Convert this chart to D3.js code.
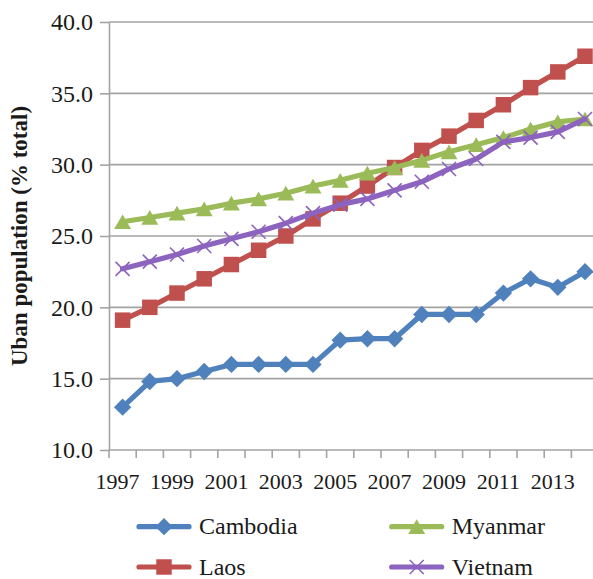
<!DOCTYPE html>
<html>
<head>
<meta charset="utf-8">
<script src="https://cdn.jsdelivr.net/npm/d3@7"></script>
<style>
  html, body { margin: 0; padding: 0; background: #fff; }
  svg { display: block; }
  text { font-family: "Liberation Serif", "Times New Roman", serif; fill: #1a1a1a; }
</style>
</head>
<body>
<svg id="chart" width="593" height="579"></svg>
<script>
// Urban population share, 1997–2014
const years = [1997, 1998, 1999, 2000, 2001, 2002, 2003, 2004, 2005,
               2006, 2007, 2008, 2009, 2010, 2011, 2012, 2013, 2014];
const cambodia = [13.0, 14.8, 15.0, 15.5, 16.0, 16.0, 16.0, 16.0, 17.7,
                  17.8, 17.8, 19.5, 19.5, 19.5, 21.0, 22.0, 21.4, 22.5];
const laos     = [19.1, 20.0, 21.0, 22.0, 23.0, 24.0, 25.0, 26.2, 27.3,
                  28.5, 29.8, 31.0, 32.0, 33.1, 34.2, 35.4, 36.5, 37.6];
const myanmar  = [26.0, 26.3, 26.6, 26.9, 27.3, 27.6, 28.0, 28.5, 28.9,
                  29.4, 29.8, 30.3, 30.9, 31.4, 31.9, 32.5, 33.0, 33.2];
const vietnam  = [22.7, 23.2, 23.7, 24.3, 24.8, 25.3, 25.9, 26.6, 27.2,
                  27.6, 28.2, 28.8, 29.7, 30.4, 31.6, 31.9, 32.3, 33.2];
const yTicks = [10, 15, 20, 25, 30, 35, 40];
const xLabels = [1997, 1999, 2001, 2003, 2005, 2007, 2009, 2011, 2013];
const yTitle = "Uban population (% total)";

const series = [
  { name: "Cambodia", values: cambodia, color: "#4F81BD", marker: "diamond", col: 0, row: 0 },
  { name: "Laos",     values: laos,     color: "#C0504D", marker: "square",  col: 0, row: 1 },
  { name: "Myanmar",  values: myanmar,  color: "#9BBB59", marker: "triangle", col: 1, row: 0 },
  { name: "Vietnam",  values: vietnam,  color: "#8C63BE", marker: "cross",   col: 1, row: 1 }
];

const W = 593, H = 579;
const FONT = "Liberation Serif, Times New Roman, serif";
const plot = { left: 109, top: 22, bottom: 450, right: 598.6 };
const gridColor = "#a3a3a3";

const svg = d3.select("#chart");

const x = d3.scaleBand().domain(years).range([plot.left, plot.right]).padding(0);
const y = d3.scaleLinear().domain([10, 40]).range([plot.bottom, plot.top]);
const cx = d => x(d) + x.bandwidth() / 2;

// horizontal gridlines
svg.append("g").selectAll("line")
  .data(yTicks.filter(t => t > 10))
  .join("line")
  .attr("x1", plot.left).attr("x2", W)
  .attr("y1", d => y(d)).attr("y2", d => y(d))
  .attr("stroke", gridColor).attr("stroke-width", 1.6);

// y axis
const yAxis = svg.append("g")
  .attr("transform", `translate(${plot.left},0)`)
  .call(d3.axisLeft(y).tickValues(yTicks).tickFormat(d3.format(".1f"))
    .tickSize(9).tickSizeOuter(0).tickPadding(7));
yAxis.attr("font-family", FONT);
yAxis.select(".domain").attr("stroke", gridColor).attr("stroke-width", 1.6);
yAxis.selectAll(".tick line").attr("stroke", gridColor).attr("stroke-width", 1.6);
yAxis.selectAll(".tick text").attr("font-size", 24).attr("fill", "#1a1a1a")
  .attr("font-family", FONT);

// x axis line and category boundary ticks
svg.append("line")
  .attr("x1", plot.left).attr("x2", W)
  .attr("y1", plot.bottom).attr("y2", plot.bottom)
  .attr("stroke", gridColor).attr("stroke-width", 1.6);
const bounds = years.map(d => x(d)).concat([x.range()[1]]);
svg.append("g").selectAll("line")
  .data(bounds)
  .join("line")
  .attr("x1", d => d).attr("x2", d => d)
  .attr("y1", plot.bottom).attr("y2", plot.bottom + 8)
  .attr("stroke", gridColor).attr("stroke-width", 1.6);

const xAxis = svg.append("g")
  .attr("transform", `translate(0,${plot.bottom})`)
  .call(d3.axisBottom(x).tickValues(xLabels).tickSize(0).tickPadding(23));
xAxis.attr("font-family", FONT);
xAxis.select(".domain").remove();
xAxis.selectAll(".tick text").attr("font-size", 22).attr("fill", "#1a1a1a")
  .attr("font-family", FONT).attr("dx", -5);

// y axis title
svg.append("text")
  .attr("transform", `translate(27,${(plot.top + plot.bottom) / 2}) rotate(-90)`)
  .attr("text-anchor", "middle")
  .attr("font-family", FONT)
  .attr("font-size", 23)
  .attr("font-weight", "bold")
  .text(yTitle);

// marker shapes
function drawMarker(g, type, color) {
  if (type === "diamond") {
    g.append("path")
      .attr("d", d3.symbol(d3.symbolSquare, 150)())
      .attr("transform", "rotate(45)")
      .attr("fill", color);
  } else if (type === "square") {
    g.append("path")
      .attr("d", d3.symbol(d3.symbolSquare, 240)())
      .attr("fill", color);
  } else if (type === "triangle") {
    const size = 125;
    const h = Math.sqrt(size * Math.sqrt(3)); // equilateral height
    g.append("path")
      .attr("d", d3.symbol(d3.symbolTriangle, size)())
      .attr("transform", `translate(0,${h / 6})`)
      .attr("fill", color);
  } else if (type === "cross") {
    const r = 7;
    const p = d3.path();
    p.moveTo(-r, -r); p.lineTo(r, r);
    p.moveTo(-r, r); p.lineTo(r, -r);
    g.append("path")
      .attr("d", p.toString())
      .attr("stroke", color).attr("stroke-width", 1.6).attr("fill", "none");
  }
}

const line = d3.line().x((d, i) => cx(years[i])).y(d => y(d));

// series: line then markers
series.forEach(s => {
  const g = svg.append("g");
  g.append("path")
    .datum(s.values)
    .attr("d", line)
    .attr("fill", "none")
    .attr("stroke", s.color)
    .attr("stroke-width", 5.2)
    .attr("stroke-linejoin", "round")
    .attr("stroke-linecap", "round");
  g.selectAll("g.m")
    .data(s.values)
    .join("g")
    .attr("class", "m")
    .attr("transform", (d, i) => `translate(${cx(years[i])},${y(d)})`)
    .each(function () { drawMarker(d3.select(this), s.marker, s.color); });
});

// legend
const legCols = [139, 391.7];
const legRows = [526.7, 567];
const legLen = 50;
series.forEach(s => {
  const lx = legCols[s.col], ly = legRows[s.row];
  const g = svg.append("g");
  g.append("line")
    .attr("x1", lx).attr("x2", lx + legLen)
    .attr("y1", ly).attr("y2", ly)
    .attr("stroke", s.color).attr("stroke-width", 5.2)
    .attr("stroke-linecap", "round");
  const mg = g.append("g").attr("transform", `translate(${lx + legLen / 2},${ly})`);
  drawMarker(mg, s.marker, s.color);
  g.append("text")
    .attr("x", lx + legLen + 10)
    .attr("y", ly + 7.5)
    .attr("font-family", FONT)
    .attr("font-size", 24)
    .text(s.name);
});
</script>
</body>
</html>
